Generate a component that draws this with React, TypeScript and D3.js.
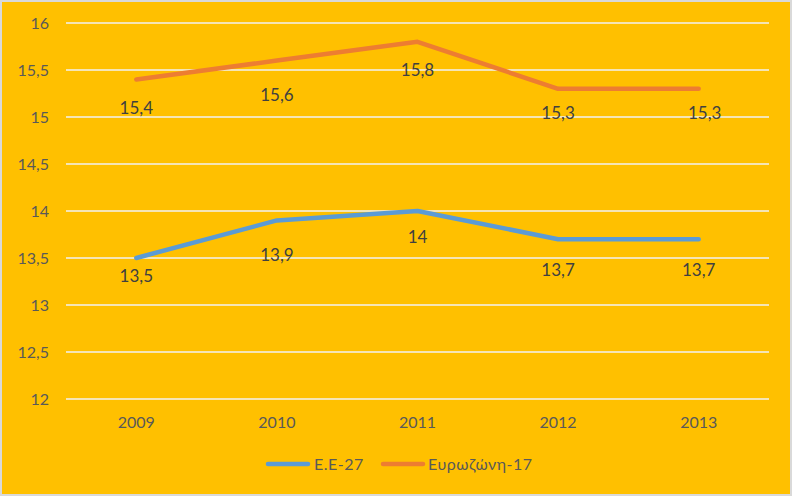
import React from 'react'
import * as d3 from 'd3'

// values
const years = ['2009', '2010', '2011', '2012', '2013']
const eu27 = [13.5, 13.9, 14, 13.7, 13.7]
const euro17 = [15.4, 15.6, 15.8, 15.3, 15.3]
const yTicks = [12, 12.5, 13, 13.5, 14, 14.5, 15, 15.5, 16]
const seriesNames = ['Ε.Ε-27', 'Ευρωζώνη-17']

// label vertical offsets (px below the point), as placed in the original
const euLabelDy = [18, 35, 26, 31, 31]
const euroLabelDy = [29, 34, 28, 24, 24]
const euroLabelDx = [0, 0, 0, 0, 6]

const fmt = (v: number) => String(v).replace('.', ',')

export default function App() {
  const width = 792
  const height = 496
  const margin = { top: 23, right: 23, bottom: 97, left: 66 }

  const x = d3.scaleBand().domain(years).range([margin.left, width - margin.right])
  const y = d3.scaleLinear().domain([12, 16]).range([height - margin.bottom, margin.top])
  const cx = (d: string) => (x(d) as number) + x.bandwidth() / 2

  const line = d3.line<number>()
    .x((_, i) => cx(years[i]))
    .y(d => y(d))

  const series = [
    { name: seriesNames[0], values: eu27, color: '#5B9BD5', dy: euLabelDy, dx: [0, 0, 0, 0, 0] },
    { name: seriesNames[1], values: euro17, color: '#ED7D31', dy: euroLabelDy, dx: euroLabelDx },
  ]

  const font = 'Lato, "Open Sans", sans-serif'

  return (
    <svg width={width} height={height} style={{ position: 'absolute', left: 0, top: 0 }}>
      <rect x={0} y={0} width={width} height={height} fill="#d9d9d9" />
      <rect x={2} y={2} width={width - 4} height={height - 4} fill="#FFC000" />
      {yTicks.map(t => (
        <g key={t}>
          <line x1={margin.left} x2={width - margin.right} y1={y(t)} y2={y(t)} stroke="#f2f2f2" strokeWidth={1.3} />
          <text x={49} y={y(t)} dy="0.35em" textAnchor="end" fontFamily={font} fontSize={16} fill="#595959">{fmt(t)}</text>
        </g>
      ))}
      {years.map(yr => (
        <text key={yr} x={cx(yr)} y={428} textAnchor="middle" fontFamily={font} fontSize={16} fill="#595959">{yr}</text>
      ))}
      {series.map(s => (
        <g key={s.name}>
          <path d={line(s.values) as string} fill="none" stroke={s.color} strokeWidth={4.5} strokeLinecap="round" strokeLinejoin="round" />
          {s.values.map((v, i) => (
            <text key={i} x={cx(years[i]) + s.dx[i]} y={y(v) + s.dy[i]} dy="0.35em" textAnchor="middle" fontFamily={font} fontSize={17} fill="#404040">{fmt(v)}</text>
          ))}
        </g>
      ))}
      {/* legend */}
      <g>
        <line x1={268} x2={308} y1={464} y2={464} stroke={series[0].color} strokeWidth={4.5} strokeLinecap="round" />
        <text x={314} y={464} dy="0.35em" fontFamily={font} fontSize={16} fill="#595959" letterSpacing={0.5}>{series[0].name}</text>
        <line x1={383} x2={423} y1={464} y2={464} stroke={series[1].color} strokeWidth={4.5} strokeLinecap="round" />
        <text x={428} y={464} dy="0.35em" fontFamily={font} fontSize={16} fill="#595959" letterSpacing={0.5}>{series[1].name}</text>
      </g>
    </svg>
  )
}
